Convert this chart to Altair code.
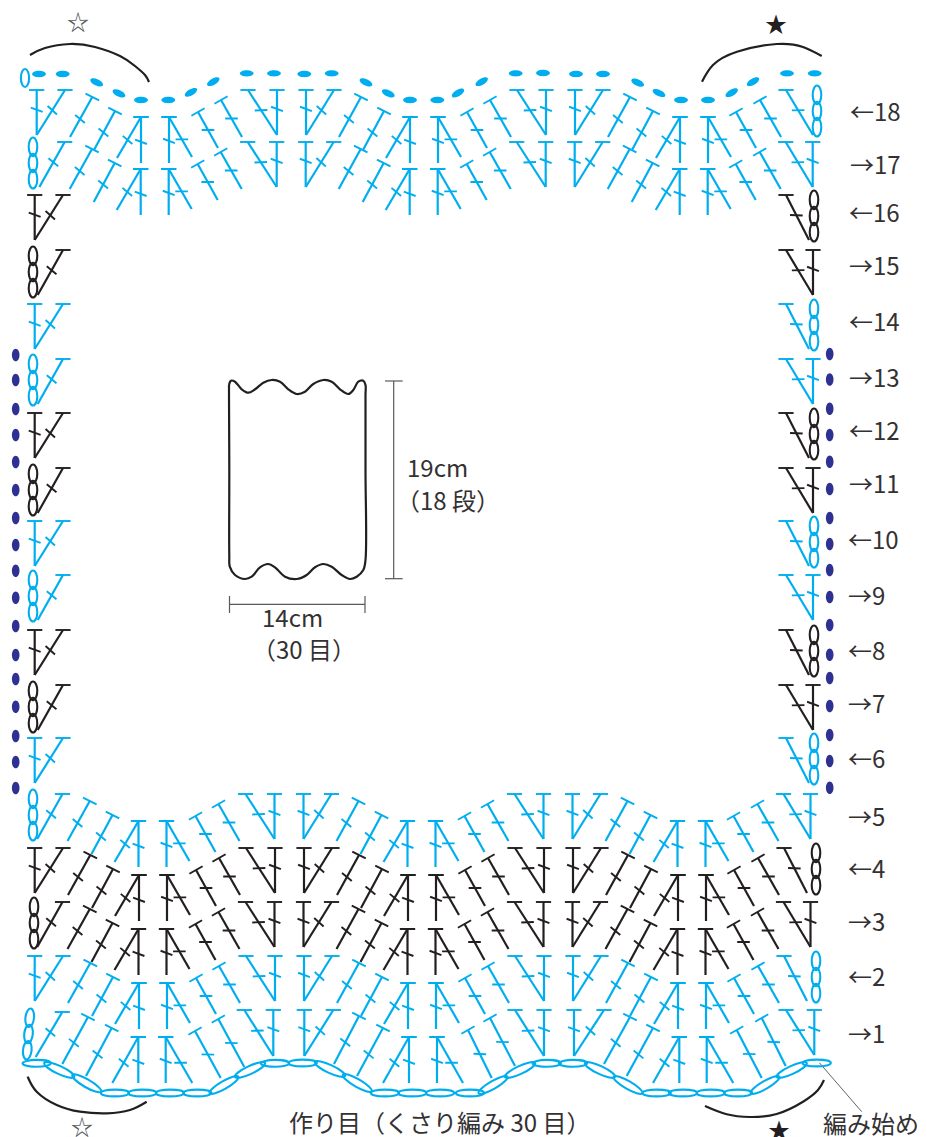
import math
import altair as alt
import pandas as pd

BLUE = "#00AEEF"
BLACK = "#231F20"
NAVY = "#2E3192"
GREY = "#58595B"
TEXT = "#333132"
CJK = "Noto Sans CJK JP"

# ---- stitch template (row 18 geometry, y relative to the row's top line)
tmpl_tx = [36.7,65,92.3,115,141,141,169,169,198,221,248,277,306,334,361,384,410,410,438,438,467,490,517,546,575,603,630,653,680,680,708,708,736,760,786,813]
tmpl_ty = [0,0,7,21,27,27,27,27,22,10,0,0,0,0,7,21,27,27,27,27,22,10,0,0,0,0,7,21,27,27,27,27,22,10,0,0]
tmpl_bx = [36.7,36.7,70,94,117,141,169,192,218,242,277,277,306,306,339,363,386,410,438,461,487,511,546,546,575,575,608,632,656,680,708,731,756,781,813,813]
tmpl_by = [45,45,47,60,68,73,73,67,58,47,45,45,45,45,47,60,68,73,73,67,58,47,45,45,45,45,47,60,68,73,73,67,58,47,45,45]
bar_tilt = [0,0,27,27,0,0,0,0,-30,-30,0,0,0,0,27,27,0,0,0,0,-30,-30,0,0,0,0,27,27,0,0,0,0,-30,-30,0,0]
bar_pos = [.44,.45,.55,.55,.56,.54,.52,.56,.5,.5,.45,.42,.42,.45,.55,.55,.56,.54,.52,.56,.5,.5,.45,.42,.42,.45,.55,.55,.56,.54,.52,.56,.5,.5,.45,.42]

# ---- row 1 sits on the foundation chain, so it has its own positions
row1_tx = [0,62.3,88,111.7,138.3,138.3,165.7,165.7,195,218.3,244.3,273.3,304.3,333.3,359,383,409,409,437,437,468,490,515,544,574,604,630,653,679.3,679.3,706.7,706.7,736.7,761.7,786,814.3]
row1_ty = [1010,1012,1017,1028,1037,1037,1037,1037,1031,1019,1010,1010,1010,1010,1016,1028,1037,1037,1037,1037,1030,1018,1010,1010,1010,1010,1017,1028,1037,1037,1037,1037,1030,1018,1010,1010]
row1_bx = [0,35.7,62.3,86,112.3,138.3,165.7,192.3,220.7,244.3,273.3,273.3,304.3,304.3,334,357,383,409,437,463,491.7,515,544,544,574,574,604,626.7,653,679.3,706.7,733.3,761.7,785.7,814.3,814.3]
row1_by = [1056,1057,1064,1076,1083,1083,1083,1083,1078,1067,1056,1056,1056,1056,1064,1076,1083,1083,1083,1083,1078,1066,1056,1056,1056,1056,1064,1076,1083,1083,1083,1083,1078,1066,1055,1055]

# ---- rows
row_no = list(range(1, 19))
row_top = [1010,956,902,848,794,738,685,630,575,521,468,413,359,304,250,195,142,90]
row_shift = [0,-2,-2.5,-2,-2.5,-2,-2,-2,-2,-2,-2,-2,-2,-2,-2,-2,-0.3,0]
row_colour = [BLUE,BLUE,BLACK,BLACK,BLUE,BLUE,BLACK,BLACK,BLUE,BLUE,BLACK,BLACK,BLUE,BLUE,BLACK,BLACK,BLUE,BLUE]
row_label = ["→1","←2","→3","←4","→5","←6","→7","←8","→9","←10","→11","←12","→13","←14","→15","←16","→17","←18"]
label_y = [1036,979,924,871,819,761,706,653,598,542,486,433,380,324,268,215,167,114]
label_x = [848,848,848,848,848,848,848,848,848,848,849,849,849,849,849,849,850,850]
chain_left_x = [28.5,0,34,0,33,0,33,0,33,0,33,0,33,0,33,0,33,0]
chain_right_x = [0,816,0,816,0,814,0,814,0,814,0,814,0,814,0,814,0,817]
chain_mid_y = [24,21,21,21,21,21,22,21,21,21,22,21,21,21,22,21,21,21]

# ---- chains
found_x = [36.7,59.3,86.7,115,142.3,170,197.3,224,250,275,302.7,330,357.3,385,412.3,440,470,493,520,546.7,573,600,628,656.7,683,710.7,738,765,791.7,816.7]
found_y = [1063.3,1070,1083.3,1093,1093,1093,1093,1085,1070,1063.3,1063,1069,1083,1093,1093,1093,1093,1085,1070,1063.3,1063.3,1070,1085,1093,1093,1093,1093,1085,1070,1063]
found_a = [0,25,30,0,0,0,0,330,335,0,0,25,30,0,0,0,0,330,335,0,0,25,30,0,0,0,0,330,335,0]
found_s = [800,1100,1100,800,800,800,800,1100,1100,800,800,1100,1100,800,800,800,800,1100,1100,800,800,1100,1100,800,800,800,800,1100,1100,800]
top_x = [39,62.7,96.7,119,141,168.3,191,213.3,246.7,274,304.3,331.7,366,388.3,410,437.3,458,481.7,515.7,543,576,603,637.7,659,681,708,731.7,753,787,814.7]
top_y = [74,74,82.3,93.3,100,100,92.3,81.7,73.3,73.3,74,73.3,82.3,93.3,100,100,93,81.7,73.3,73,74,74,82.7,93,100,100,92.7,81.7,73.3,73.3]
top_a = [0,0,25,25,0,0,330,330,0,0,0,0,25,25,0,0,330,330,0,0,0,0,25,25,0,0,330,330,0,0]
side_left_y = [355,380,409,435,462,490,518,545,570.7,597.7,626,655,679,706.7,736,762,788]
side_right_y = [354,379.5,408.7,435,461.7,489,518,544,570,597,625,654.7,678,706,735,761,787.7]

# ---- curves
arc_tl_x = [30,45,70,95,120,135,145,149]
arc_tl_y = [55,48,44,47,56,66,75,82]
arc_tr_x = [702,713,737,776.7,803,821.7]
arc_tr_y = [81.7,65,51.7,44,47,56]
arc_bl_x = [27.7,36.7,56.7,80,106.7,130,146.7]
arc_bl_y = [1076.7,1091.7,1105,1111.7,1113.3,1110,1101.7]
arc_br_x = [705,726.7,750,776.7,803,818,824]
arc_br_y = [1106,1114.3,1117,1114,1101.7,1090,1080]
outline_x = [229,231,235,241.7,248.3,255,263.3,271.7,280,288.3,296.7,305,313.3,323.3,331.7,340,348.3,353.3,358.3,363.3,365.5,365.5,365.5,365.5,363.3,356.7,350,341.7,331.7,323.3,315,306.7,296.7,285,275,268.3,260,251.7,245,235,229.8,229.3,229.3,229,229]
outline_y = [385,380.7,381.7,389.3,392.7,389.3,382.7,380,381.7,389.3,394,391.7,384,380,381.7,389.3,394,390,381.7,380.7,385,395,470,560,570,576.7,579,575,566.7,564,567.3,575,579,576.7,567.3,564,567.3,576.7,579,575,566.7,556,470,395,385]

# ---- straight helper lines
dim_x1 = [393.7,385,385,229.5,229.5,365,819.3]
dim_y1 = [381,381,578.7,604.3,596,596,1062.7]
dim_x2 = [393.7,402.7,402.7,365,229.5,365,861.7]
dim_y2 = [578.7,381,578.7,604.3,613,613,1111.7]
dim_w = [1.2,1.2,1.2,1.2,1.2,1.2,0.7]

# ---- text
texts = ["☆","★","☆","★","19cm","（18 段）","14cm","（30 目）","作り目（くさり編み 30 目）","編み始め"]
text_x = [67,765,71,768,407,396,262,252,289,823]
text_y = [23,25,1128,1131,470,503,620,652,1125,1126]
text_s = [22,22,22,22,24,24,24,24,24,24]
text_c = [GREY,BLACK,GREY,BLACK,TEXT,TEXT,TEXT,TEXT,TEXT,TEXT]


def seg(rows, x1, y1, x2, y2, colour, w):
    rows.append(dict(x=x1, y=y1, x2=x2, y2=y2, c=colour, w=w))


segs = []


def stitch(tx, ty, bx, by, i, colour):
    seg(segs, bx, by, tx, ty, colour, 2.2)
    t = math.radians(bar_tilt[i])
    hx, hy = 7.6 * math.cos(t), 7.6 * math.sin(t)
    seg(segs, tx - hx, ty - hy, tx + hx, ty + hy, colour, 1.9)
    theta = math.degrees(math.atan2(tx - bx, by - ty))
    a = math.radians(20 + 0.67 * theta)
    p = bar_pos[i]
    cx, cy = tx + (bx - tx) * p, ty + (by - ty) * p
    hx, hy = 6.3 * math.cos(a), 6.3 * math.sin(a)
    seg(segs, cx - hx, cy - hy, cx + hx, cy + hy, colour, 1.9)


links = []
for r, top, sh, col, cl, cr, mid in zip(row_no, row_top, row_shift, row_colour, chain_left_x, chain_right_x, chain_mid_y):
    for i in range(36):
        if r in range(6, 17) and 2 <= i <= 33:
            continue
        if i == 0 and cl:
            continue
        if i == 35 and cr:
            continue
        if r == 1:
            stitch(row1_tx[i], row1_ty[i], row1_bx[i], row1_by[i], i, col)
            continue
        s = sh if (i < 18 or r < 6 or r > 16) else 0
        bx = tmpl_bx[i] + s
        if i == 1 and cl:
            bx += 3
        if i == 34 and cr and r != 18:
            bx -= 4
        stitch(tmpl_tx[i] + s, top + tmpl_ty[i], bx, top + tmpl_by[i], i, col)
    cx = cl or cr
    if cx:
        ang = 96 if r == 1 else 90
        for k, dy in enumerate((-16.2, 0, 16.2)):
            links.append(dict(x=cx + (k - 1) * (-1.2 if r == 1 else 0), y=top + mid + dy, a=ang, c=col))

seg_df = pd.DataFrame(segs)
seg_df2 = pd.DataFrame(dict(x=dim_x1, y=dim_y1, x2=dim_x2, y2=dim_y2, c=[GREY] * 6 + [BLACK], w=dim_w))
all_seg = pd.concat([seg_df, seg_df2], ignore_index=True)

xs = alt.Scale(domain=[8, 919], range=[0, 911], nice=False, zero=False)
ys = alt.Scale(domain=[8, 1129], range=[0, 1121], nice=False, zero=False)
X = alt.X("x:Q", scale=xs, axis=None)
Y = alt.Y("y:Q", scale=ys, axis=None)

rules = alt.Chart(all_seg).mark_rule().encode(
    x=X, y=Y, x2="x2:Q", y2="y2:Q",
    color=alt.Color("c:N", scale=None),
    strokeWidth=alt.StrokeWidth("w:Q", scale=None),
)

ELL_A = "M-1,0A1,0.46,0,1,1,1,0A1,0.46,0,1,1,-1,0Z"
ELL_B = "M-1,0A1,0.24,0,1,1,1,0A1,0.24,0,1,1,-1,0Z"
ELL_C = "M-1,0A1,0.6,0,1,1,1,0A1,0.6,0,1,1,-1,0Z"

turn = alt.Chart(pd.DataFrame(links)).mark_point(shape=ELL_A, size=346, filled=False, strokeWidth=2.1, opacity=1).encode(
    x=X, y=Y, angle=alt.Angle("a:Q", scale=None), stroke=alt.Stroke("c:N", scale=None))

first_link = alt.Chart(pd.DataFrame(dict(x=[25], y=[78], a=[90]))).mark_point(
    shape=ELL_A, size=320, filled=False, strokeWidth=2.1, color=BLUE, opacity=1
).encode(x=X, y=Y, angle=alt.Angle("a:Q", scale=None))

foundation = alt.Chart(pd.DataFrame(dict(x=found_x, y=found_y, a=found_a, s=found_s))).mark_point(
    shape=ELL_B, filled=False, strokeWidth=2.1, color=BLUE, opacity=1
).encode(x=X, y=Y, angle=alt.Angle("a:Q", scale=None), size=alt.Size("s:Q", scale=None))

top_dots = alt.Chart(pd.DataFrame(dict(x=top_x, y=top_y, a=top_a))).mark_point(
    shape=ELL_A, size=190, filled=True, color=BLUE, opacity=1
).encode(x=X, y=Y, angle=alt.Angle("a:Q", scale=None))

side_df = pd.DataFrame(dict(
    x=[15.7] * len(side_left_y) + [829.7] * len(side_right_y),
    y=side_left_y + side_right_y,
    a=[90] * (len(side_left_y) + len(side_right_y)),
))
side_dots = alt.Chart(side_df).mark_point(
    shape=ELL_C, size=160, filled=True, color=NAVY, opacity=1
).encode(x=X, y=Y, angle=alt.Angle("a:Q", scale=None))

def curve(xv, yv, w, interp="natural"):
    d = pd.DataFrame(dict(x=xv, y=yv, o=range(len(xv))))
    return alt.Chart(d).mark_line(color=BLACK, strokeWidth=w, interpolate=interp).encode(
        x=X, y=Y, order="o:Q")

row_text = alt.Chart(pd.DataFrame(dict(x=label_x, y=label_y, t=row_label))).mark_text(
    align="left", baseline="middle", font=CJK, fontSize=24, fontWeight=400, color=TEXT
).encode(x=X, y=Y, text="t:N")

other_text = alt.Chart(pd.DataFrame(dict(x=text_x, y=text_y, t=texts, s=text_s, c=text_c))).mark_text(
    align="left", baseline="middle", font=CJK, fontWeight=400
).encode(x=X, y=Y, text="t:N", size=alt.Size("s:Q", scale=None),
         color=alt.Color("c:N", scale=None))

chart = alt.layer(
    rules, turn, first_link, foundation, top_dots, side_dots,
    curve(arc_tl_x, arc_tl_y, 2.2), curve(arc_tr_x, arc_tr_y, 2.2),
    curve(arc_bl_x, arc_bl_y, 2.2), curve(arc_br_x, arc_br_y, 2.2),
    curve(outline_x, outline_y, 2.2, "catmull-rom"),
    row_text, other_text,
).properties(width=911, height=1121, padding=0, background="white").configure_view(stroke=None)

chart.save("out.html", embed_options={"renderer": "svg", "actions": False})
